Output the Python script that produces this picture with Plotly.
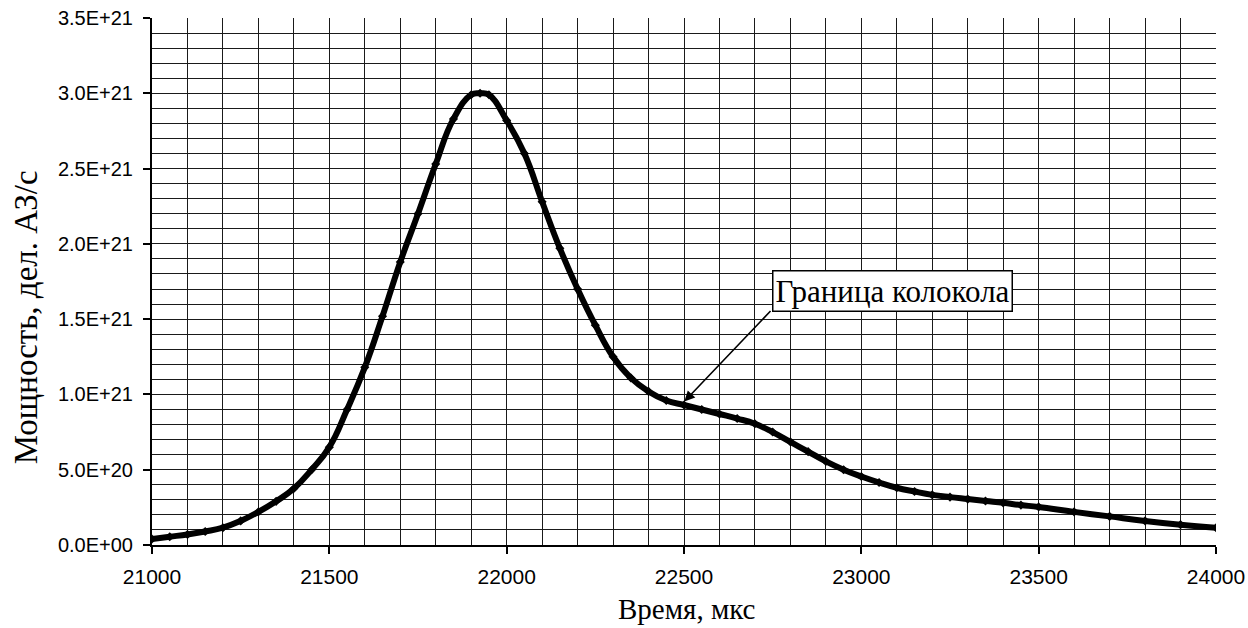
import plotly.graph_objects as go

# Data
time_us = [21000, 21050, 21100, 21150, 21200, 21250, 21300, 21350, 21400, 21450,
           21500, 21550, 21600, 21650, 21700, 21750, 21800, 21850, 21900, 21925,
           21950, 22000, 22050, 22100, 22150, 22200, 22250, 22300, 22350, 22400,
           22450, 22500, 22550, 22600, 22650, 22700, 22750, 22800, 22850, 22900,
           22950, 23000, 23050, 23100, 23150, 23200, 23250, 23300, 23350, 23400,
           23450, 23500, 23600, 23700, 23800, 23900, 24000]
power = [0.40e20, 0.55e20, 0.70e20, 0.90e20, 1.15e20, 1.60e20, 2.20e20, 2.90e20, 3.75e20, 5.00e20,
         6.50e20, 9.00e20, 11.8e20, 15.2e20, 18.8e20, 22.0e20, 25.3e20, 28.3e20, 29.9e20, 30.0e20,
         29.9e20, 28.2e20, 26.0e20, 22.8e20, 19.7e20, 17.0e20, 14.6e20, 12.5e20, 11.1e20, 10.2e20,
         9.6e20, 9.3e20, 9.0e20, 8.7e20, 8.4e20, 8.05e20, 7.5e20, 6.85e20, 6.2e20, 5.55e20,
         5.0e20, 4.55e20, 4.15e20, 3.80e20, 3.55e20, 3.33e20, 3.18e20, 3.05e20, 2.92e20, 2.80e20,
         2.65e20, 2.53e20, 2.20e20, 1.90e20, 1.60e20, 1.35e20, 1.15e20]

x_ticks = [21000, 21500, 22000, 22500, 23000, 23500, 24000]
x_tick_labels = ["21000", "21500", "22000", "22500", "23000", "23500", "24000"]
y_ticks = [0, 5e20, 1e21, 1.5e21, 2e21, 2.5e21, 3e21, 3.5e21]
y_tick_labels = ["0.0E+00", "5.0E+20", "1.0E+21", "1.5E+21", "2.0E+21", "2.5E+21", "3.0E+21", "3.5E+21"]

x_title = "Время, мкс"
y_title = "Мощность, дел. АЗ/с"
note_text = "Граница колокола"
note_point = (22501, 9.53e20)
note_tail = (22748, 1.564e21)
note_box_top = 1.825e21

fig = go.Figure()
fig.add_trace(go.Scatter(
    x=time_us, y=power, mode="lines+markers",
    line=dict(color="black", width=6, shape="spline", smoothing=1.3),
    marker=dict(symbol="diamond", size=7, color="black"),
    showlegend=False, hoverinfo="skip",
))

fig.add_annotation(
    x=note_point[0], y=note_point[1], xref="x", yref="y",
    ax=note_tail[0], ay=note_tail[1], axref="x", ayref="y",
    text="", showarrow=True, arrowhead=2, arrowsize=1.3, arrowwidth=1.6,
    arrowcolor="black", standoff=0, startstandoff=0,
)
fig.add_annotation(
    x=note_tail[0], y=note_box_top, xref="x", yref="y",
    xanchor="left", yanchor="top", showarrow=False,
    text=note_text,
    font=dict(family="Liberation Serif", size=31, color="black"),
    bgcolor="white", bordercolor="black", borderwidth=1.5, borderpad=2,
)

fig.add_annotation(
    x=-0.119, y=0.433, xref="paper", yref="paper",
    text=y_title, textangle=-90, showarrow=False,
    font=dict(family="Liberation Serif", size=33, color="black"),
    xanchor="center", yanchor="middle",
)
fig.add_annotation(
    x=0.503, y=-0.121, xref="paper", yref="paper",
    text=x_title, showarrow=False,
    font=dict(family="Liberation Serif", size=29, color="black"),
    xanchor="center", yanchor="middle",
)

grid_color = "#1a1a1a"
fig.update_xaxes(
    range=[21000, 24000], tickvals=x_ticks, ticktext=x_tick_labels,
    ticks="outside", ticklen=7, tickwidth=2, tickcolor="black",
    showline=True, linecolor="black", linewidth=2,
    showgrid=True, gridcolor=grid_color, gridwidth=1,
    minor=dict(dtick=100, tick0=21000, showgrid=True, gridcolor=grid_color, gridwidth=1, ticklen=0),
    tickfont=dict(family="Liberation Sans", size=21, color="black"),
    ticklabelstandoff=5,
    zeroline=False, automargin=False,
)
fig.update_yaxes(
    range=[0, 3.5e21], tickvals=y_ticks, ticktext=y_tick_labels,
    ticks="outside", ticklen=7, tickwidth=2, tickcolor="black",
    showline=True, linecolor="black", linewidth=2,
    showgrid=True, gridcolor=grid_color, gridwidth=1,
    minor=dict(dtick=1e20, tick0=0, showgrid=True, gridcolor=grid_color, gridwidth=1, ticklen=0),
    tickfont=dict(family="Liberation Sans", size=20, color="black"),
    ticklabelstandoff=6,
    zeroline=False, automargin=False,
)

fig.update_layout(
    width=1248, height=628,
    margin=dict(l=152, r=32, t=18, b=83),
    paper_bgcolor="white", plot_bgcolor="white",
)

fig.write_html(
    "out.html",
    config={"displayModeBar": False},
    post_script="document.body.style.margin='0';document.body.style.overflow='hidden';",
)
